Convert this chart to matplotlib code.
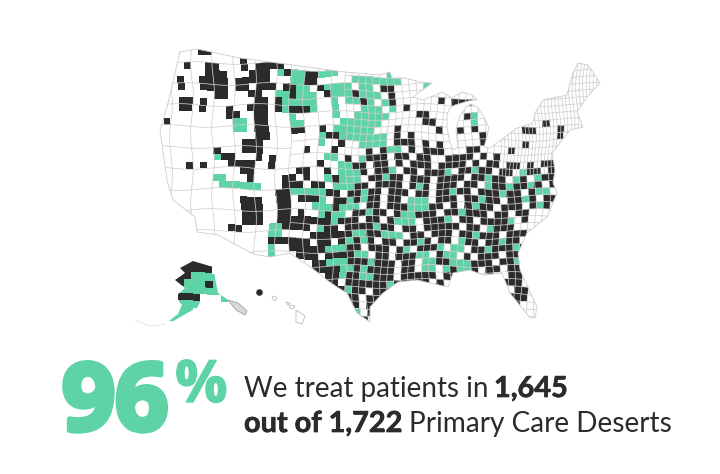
import numpy as np
import matplotlib
matplotlib.use('Agg')
import matplotlib.pyplot as plt
import matplotlib.patheffects as pe
from matplotlib.collections import LineCollection
from matplotlib.colors import ListedColormap
from matplotlib.path import Path

# warna
HIJAU = '#5dd3a6'
GELAP = '#2b2b2b'
GARIS = '#cfcfcf'

# outline peta (posisi piksel pada gambar)
conus_x = [180,197,240,300,345,380,390,392,405,420,432,413,423,433,442,452,462,472,477,468,455,450,447,447,450,453,458,456,459,466,472,478,484,489,486,484,490,517,533,535,543,567,573,578,588,600,587,577,583,570,560,552,555,553,557,547,527,518,520,537,535,530,510,502,483,470,453,448,430,417,398,383,370,370,357,347,337,327,312,290,270,253,218,197,195,173,167,160,167,180]
conus_y = [52,49,58,66,72,75,72,78,78,82,83,97,100,96,92,98,92,95,100,101,105,108,115,128,143,150,147,130,118,107,104,108,117,128,140,147,148,128,123,113,100,95,73,63,65,83,97,112,127,130,143,153,170,183,193,217,233,253,270,307,318,318,293,273,275,270,273,287,283,280,282,293,307,322,313,293,287,280,268,253,257,254,235,232,217,200,180,130,107,52]
alaska_x = [180,193,213,218,231,228,212,202,197,187,172,165,178,182,175,185,175,185,180]
alaska_y = [268,261,267,293,302,304,300,298,308,313,322,324,314,305,297,288,280,273,268]
panhandle_x = [228,238,247,245,236,228]
panhandle_y = [300,303,311,315,310,300]
hawaii_x = [[273,277,275,272],[286,290,288],[290,295,293,289],[296,305,302,296,296]]
hawaii_y = [[296,298,301,298],[302,303,305],[305,306,309,307],[310,316,324,322,310]]
kauai_x = [259]
kauai_y = [292]
aleut_x = [165,155,147,135]
aleut_y = [324,326,325,320]

# warna tiap sel, . putih, k gelap, g hijau
baris = [
"",
".......kk",
".............k",
".....k..kk...k.kkkk",
"........kkk...kkk.gkggkkggg.......g",
"....k..kkkk.kkkkk...ggkk.....ggggggg",
"....k..kkkk.kk.kkk.kkgg.kgggg.gg.kk....g",
".........kk...kk..ggkggg.kgggkggg.k",
"....kk.k.......kk.kggggg..g.ggkg.gk......k.kkk",
"....kk.k...k..kkk.kgkkkg..g...ggg.g.k",
"...........kk..kk...g.....g..ggggg....kk.....kg",
"..k.........gg.kk...gg.....gggggg......kk.....g.........k",
"............gg.kk...kk..k.gggggg...k.....k..k.k......kk...k",
"...............kk.......gkkggggggg.k.k.........k..........k",
".............kkk........g..k..gggg.kkk.k.k.....k.....k",
".........k...kkk......k...k....k.kgg.k.kkk...kk....k",
".........gkk...k.k.......gg.k.gkkk.kk.kk..kkkk.k.k",
".....k.k...kkkk..k......k..ggkk.kk.k.kkk.kkkk.k.kk.kk.k.kk",
".............kk......kk..k.gggk.kkg.kk.kkkg.kkgkk.kk.gkk.kk",
".........gg...k....kk.k..gkggg.kkgkk.kkk.kkkk.kkgkk.gk.gkk",
"..........gggggg...kkk.kk.gggkk.kkkk.kgk.kkk.kk.gkkgkkgk.k",
"..................kkgggggkk.kkgkk.kkk.kk.kkgkk.kkkgkk.kgg.k",
".............kkk..kk.kkkg.kkgkgkk.kk.ggg.kkk.kkgkk.kkgk.kk",
".............kkk..kk...gggkggg.kk.kkkgggkk.k.kgkk.kkk.kgk",
".............kkk..kk.k..gkgg.kkgkk.kggkkk.kkgkkk.kk.kk",
".............kkk..kkkkkkkkgkkk.kk.kggg.kkkg.kk.kkkkg.k",
"...........kk....ggkkkk.gkk.kkkkgkk.kk.kkkkk.kk.gkkk",
".................gg....kkkkkkggkkggg.kk.kkk.kkgkkk.kkk",
".................kkkkkk.kk.kgkgk.kk.kkgk.kk.gkk.kkgkk",
".................g..kkkkkgggkk.kkk.kg.kkkg.gg.kkgkkkgk",
".................g...kkk.kkkkgg.kk.kkkgg.kgg.k.kkk.kk",
"....kkkkk..............kkgggkkkgkkk.kk.ggkkgggkkk.kkgk.k",
"....kkkkk............ggkkkkggkgkkkk.kk.gg.gkggk.kk.kkgk",
"....kkgggg...............kkgkkggkkk.kkkkk.kk..k.k..kk",
"...kkgggkg...............kk.kkkkkkgkkkkk.k.k.k....kkk",
"....ggggggg...............kkgkk.kkk.kk.k...k....k...kk",
"....kkk...ggg.............kkkk.kkk.kkg.............kkk",
"....ggg...................kkkk.kk.kk...............kk",
"..gggg....................kkkg.k..................k.k",
"..ggg.....................ggkkk...................k",
"...........................gk",
]

X0, Y0, SEL = 150, 42, 7
n_kol = 67
kode = {'.': 0, 'k': 1, 'g': 2}
sel = np.array([[kode[c] for c in b.ljust(n_kol, '.')[:n_kol]] for b in baris])

fig = plt.figure(figsize=(7.2, 4.74), dpi=100)
ax = fig.add_axes([0, 0, 1, 1])
ax.set_xlim(0, 720)
ax.set_ylim(474, 0)
ax.axis('off')


def buat_path(xs, ys):
    v = list(zip(xs, ys))
    return [Path.MOVETO] + [Path.LINETO] * (len(v) - 2) + [Path.CLOSEPOLY], v


k1, v1 = buat_path(conus_x, conus_y)
k2, v2 = buat_path(alaska_x, alaska_y)
semua = Path(v1 + v2, k1 + k2)
daratan = Path(v1, k1)

# kisi dibengkokkan sedikit supaya tidak terlalu kotak
xe = X0 + SEL * np.arange(n_kol + 1)
ye = Y0 + SEL * np.arange(len(baris) + 1)
XX, YY = np.meshgrid(xe, ye)
XW = XX + 1.4 * np.sin(YY / 11.0 + XX / 37.0)
YW = YY + 1.4 * np.sin(XX / 13.0 + YY / 29.0)
mesh = ax.pcolormesh(XW, YW, sel, cmap=ListedColormap(['white', GELAP, HIJAU]), vmin=0, vmax=2)
mesh.set_clip_path(semua, ax.transData)


# jarak garis county, makin rapat ke timur
def langkah(x):
    if x < 290:
        return 3
    if x < 346:
        return 2
    return 1


segmen = []
for i in range(len(xe)):
    if i % langkah(xe[i]) == 0:
        segmen.append(np.column_stack([XW[:, i], YW[:, i]]))
for j in range(len(ye)):
    for i in range(len(xe) - 1):
        if j % langkah(xe[i]) == 0:
            segmen.append([(XW[j, i], YW[j, i]), (XW[j, i + 1], YW[j, i + 1])])
# timur laut lebih rapat lagi
for i in range(len(xe) - 1):
    if xe[i] >= 495:
        segmen.append([(XW[j, i] + SEL / 2, YW[j, i]) for j in range(20)])
lc = LineCollection(segmen, colors=GARIS, linewidths=0.55)
ax.add_collection(lc)
lc.set_clip_path(daratan, ax.transData)

ax.plot(conus_x, conus_y, color='#cccccc', lw=0.6)
ax.fill(panhandle_x, panhandle_y, facecolor='#d8d8d8', edgecolor='#a0a0a0', lw=0.6)
for hx, hy in zip(hawaii_x, hawaii_y):
    ax.fill(hx, hy, facecolor='white', edgecolor='#bdbdbd', lw=0.6)
ax.scatter(kauai_x, kauai_y, s=14, color=GELAP, zorder=3)
ax.plot(aleut_x, aleut_y, color='#bdbdbd', lw=0.5, ls=(0, (2, 2)))

# teks
ax.text(62, 430, '96', family='Open Sans', weight='bold', fontsize=67, color=HIJAU,
        path_effects=[pe.withStroke(linewidth=4, foreground=HIJAU)])
ax.text(175, 402, '%', family='Open Sans', weight='bold', fontsize=42, color=HIJAU,
        path_effects=[pe.withStroke(linewidth=1, foreground=HIJAU)])

sedikit = [pe.withStroke(linewidth=0.5, foreground=GELAP)]
ax.text(244, 397, 'We treat patients in', family='Lato', fontsize=20.0, color=GELAP)
ax.text(494, 397, '1,645', family='Lato', weight='bold', fontsize=20.8, color=GELAP, path_effects=sedikit)
ax.text(244, 432, 'out of 1,722', family='Lato', weight='bold', fontsize=20.8, color=GELAP, path_effects=sedikit)
ax.text(409, 432, 'Primary Care Deserts', family='Lato', fontsize=20.2, color=GELAP)

fig.savefig('out.png', dpi=100)
